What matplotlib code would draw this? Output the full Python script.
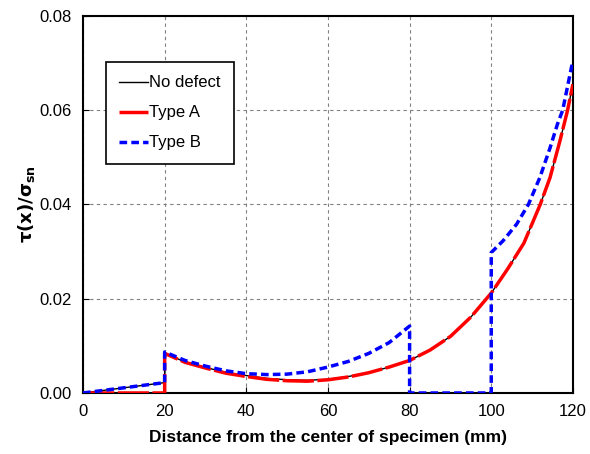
import numpy as np
import matplotlib.pyplot as plt

plt.rcParams['font.family'] = ['Liberation Sans', 'DejaVu Sans']

# No defect
x_nd = [0, 20, 20, 25, 30, 35, 40, 45, 50, 55, 60, 65, 70, 75, 80, 85, 90, 95, 100,
        104, 108, 112, 114.4, 116.8, 118.7, 120]
y_nd = [0.0, 0.0022, 0.0084, 0.0066, 0.0054, 0.0044, 0.0037, 0.0031, 0.0028, 0.0027, 0.0029,
        0.0035, 0.0043, 0.0055, 0.0069, 0.0091, 0.0120, 0.0161, 0.0212,
        0.0263, 0.0318, 0.0400, 0.0457, 0.0534, 0.0600, 0.0655]

# Type A (defect at 0-20)
x_a = [0, 20, 20, 25, 30, 35, 40, 45, 50, 55, 60, 65, 70, 75, 80, 85, 90, 95, 100,
       104, 108, 112, 114.4, 116.8, 118.7, 120]
y_a = [0.0, 0.0, 0.0084, 0.0065, 0.0053, 0.0042, 0.0035, 0.0029, 0.0026, 0.0025, 0.0028,
       0.0034, 0.0043, 0.0055, 0.0069, 0.0091, 0.0120, 0.0161, 0.0212,
       0.0263, 0.0318, 0.0400, 0.0457, 0.0534, 0.0600, 0.0655]

# Type B (defect at 80-100)
x_b = [0, 20, 20, 25, 30, 35, 40, 45, 50, 55, 60, 65, 70, 75, 80, 80, 100, 100,
       102.9, 106.2, 109.1, 111.9, 114.4, 116.2, 117.5, 119.7, 120]
y_b = [0.0, 0.0022, 0.0087, 0.0069, 0.0057, 0.0047, 0.0041, 0.0039, 0.0040, 0.0045, 0.0055,
       0.0067, 0.0084, 0.0107, 0.0142, 0.0, 0.0, 0.0298,
       0.0323, 0.0358, 0.0400, 0.0457, 0.0520, 0.0570, 0.0600, 0.0693, 0.0700]

fig = plt.figure(figsize=(5.9, 4.54), dpi=100)
ax = fig.add_axes([0.1407, 0.1344, 0.8303, 0.8304])

ax.plot(x_nd, y_nd, color='black', lw=1.0, label='No defect', zorder=3)
ax.plot(x_a, y_a, color='red', lw=2.5, ls=(0, (9, 1)), label='Type A', zorder=4)
ax.plot(x_b, y_b, color='blue', lw=2.5, ls=(0, (2.2, 1.2)), label='Type B', zorder=5)

ax.set_xlim(0, 120)
ax.set_ylim(0, 0.08)
ax.set_xticks(np.arange(0, 121, 20))
ax.set_yticks(np.arange(0, 0.081, 0.02))
ax.set_yticklabels(['0.00', '0.02', '0.04', '0.06', '0.08'])
ax.grid(True, color='gray', ls=(0, (3, 3)), lw=0.8)
ax.tick_params(direction='in', labelsize=12, length=4, pad=8)
for s in ax.spines.values():
    s.set_linewidth(1.5)

ax.set_xlabel('Distance from the center of specimen (mm)', fontsize=12.5,
              fontweight='bold', labelpad=8)
ax.set_ylabel(r'$\mathbf{\tau(x)/\sigma_{sn}}$', fontsize=13, labelpad=2)

leg = ax.legend(loc='upper left', bbox_to_anchor=(0.03, 0.9), fontsize=12,
                fancybox=False, edgecolor='black', framealpha=1,
                handlelength=1.7, handletextpad=0.1, labelspacing=0.9,
                borderpad=0.8)
leg.get_frame().set_linewidth(1.2)

fig.savefig('out.png', dpi=100)
